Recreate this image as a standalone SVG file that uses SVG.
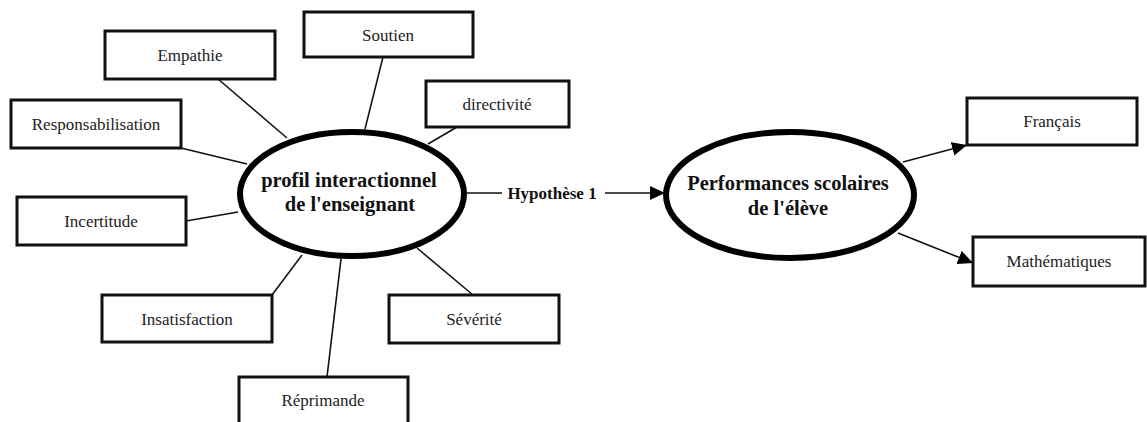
<svg xmlns="http://www.w3.org/2000/svg" width="1147" height="422" viewBox="0 0 1147 422">
<style>
.box{fill:#fff;stroke:#111;stroke-width:3}
.lbl{font-family:"Liberation Serif","Times New Roman",serif;font-size:17px;fill:#222;text-anchor:middle}
.big{font-family:"Liberation Serif","Times New Roman",serif;font-size:20.5px;font-weight:bold;fill:#111;text-anchor:middle}
.ell{fill:#fff;stroke:#000;stroke-width:6}
.con{stroke:#111;stroke-width:1.6;fill:none}
</style>
<defs>
<marker id="arr" markerUnits="userSpaceOnUse" markerWidth="16" markerHeight="14" refX="15" refY="7" orient="auto">
<path d="M0,0 L15,7 L0,14 z" fill="#000"/>
</marker>
</defs>
<rect width="1147" height="422" fill="#fff"/>
<g id="connectors">
<line class="con" x1="218" y1="79" x2="287" y2="138"/>
<line class="con" x1="383" y1="57" x2="365" y2="129"/>
<line class="con" x1="457" y1="127" x2="428" y2="144"/>
<line class="con" x1="181" y1="148" x2="247" y2="164"/>
<line class="con" x1="186" y1="221" x2="238" y2="212"/>
<line class="con" x1="272" y1="295" x2="302" y2="255"/>
<line class="con" x1="327" y1="377" x2="341" y2="259"/>
<line class="con" x1="473" y1="295" x2="417" y2="248"/>
<line class="con" x1="467" y1="193" x2="502" y2="193"/>
<line class="con" x1="605" y1="193" x2="665" y2="193" marker-end="url(#arr)"/>
<line class="con" x1="903" y1="162" x2="967" y2="145" marker-end="url(#arr)"/>
<line class="con" x1="898" y1="233" x2="973" y2="263" marker-end="url(#arr)"/>
<text class="big" x="552" y="199" style="font-size:17px">Hypothèse 1</text>
</g>
<g id="profil">
<ellipse class="ell" cx="352" cy="194" rx="112" ry="62"/>
<text class="big" x="349" y="187">profil interactionnel</text>
<text class="big" x="350" y="211">de l'enseignant</text>
</g>
<g id="performances">
<ellipse class="ell" cx="790" cy="195" rx="124" ry="63"/>
<text class="big" x="788" y="190">Performances scolaires</text>
<text class="big" x="788" y="215">de l'élève</text>
</g>
<g id="empathie"><rect class="box" x="105" y="31" width="170" height="48"/><text class="lbl" x="190" y="61">Empathie</text></g>
<g id="soutien"><rect class="box" x="304" y="12" width="169" height="45"/><text class="lbl" x="388" y="41">Soutien</text></g>
<g id="directivite"><rect class="box" x="426" y="81" width="143" height="46"/><text class="lbl" x="497" y="110">directivité</text></g>
<g id="responsabilisation"><rect class="box" x="11" y="100" width="170" height="48"/><text class="lbl" x="96" y="130">Responsabilisation</text></g>
<g id="incertitude"><rect class="box" x="17" y="197" width="169" height="48"/><text class="lbl" x="101" y="227">Incertitude</text></g>
<g id="insatisfaction"><rect class="box" x="102" y="295" width="170" height="47"/><text class="lbl" x="187" y="325">Insatisfaction</text></g>
<g id="reprimande"><rect class="box" x="239" y="377" width="169" height="50"/><text class="lbl" x="323" y="406">Réprimande</text></g>
<g id="severite"><rect class="box" x="389" y="295" width="170" height="48"/><text class="lbl" x="474" y="325">Sévérité</text></g>
<g id="francais"><rect class="box" x="967" y="98" width="170" height="47"/><text class="lbl" x="1052" y="127">Français</text></g>
<g id="mathematiques"><rect class="box" x="973" y="237" width="172" height="49"/><text class="lbl" x="1059" y="267">Mathématiques</text></g>
</svg>
